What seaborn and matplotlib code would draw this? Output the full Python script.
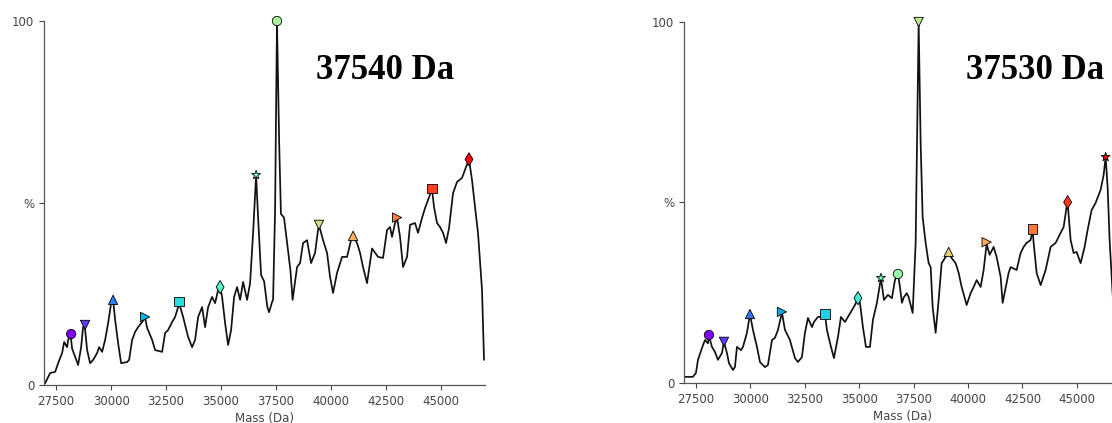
import matplotlib

matplotlib.use("Agg")
import matplotlib.pyplot as plt
import numpy as np
import pandas as pd
import seaborn as sns

# --- spectrum (mass in Da, intensity in %) ---
left_mass = [26960, 27000, 27227, 27455, 27591, 27773, 27864, 28000, 28045, 28160, 28227,
             28364, 28500, 28636, 28727, 28800, 28909, 29045, 29182, 29364, 29455,
             29591, 29727, 29864, 30000, 30090, 30182, 30318, 30455, 30727, 30818,
             30955, 31091, 31227, 31409, 31545, 31636, 31864, 32000, 32318, 32455,
             32591, 32773, 32909, 33045, 33090, 33273, 33500, 33682, 33818, 33955,
             34136, 34273, 34409, 34591, 34727, 34864, 34955, 35045, 35182, 35318,
             35455, 35591, 35727, 35864, 36000, 36182, 36318, 36455, 36591, 36682,
             36818, 36955, 37100, 37181, 37317, 37363, 37454, 37540, 37640, 37720,
             37860, 38000, 38150, 38250, 38454, 38590, 38726, 38908, 39090, 39272,
             39408, 39450, 39635, 39817, 39953, 40090, 40271, 40499, 40726, 40908,
             41000, 41180, 41317, 41453, 41635, 41862, 42135, 42362, 42544, 42680,
             42771, 42908, 43000, 43135, 43271, 43453, 43589, 43816, 43953, 44135,
             44271, 44453, 44590, 44680, 44817, 44953, 45090, 45226, 45362, 45544,
             45726, 45953, 46135, 46270, 46408, 46544, 46680, 46862, 46953]
left_int = [0.3, 0.5, 3.3, 3.6, 6.0, 8.8, 11.8, 10.4, 12.4, 13.5, 10.0,
            7.7, 5.5, 10.4, 16.0, 16.3, 9.6, 6.0, 6.9, 8.8, 10.4,
            9.1, 12.4, 17.0, 22.5, 23.4, 17.9, 11.5, 6.0, 6.3, 6.9,
            12.4, 14.6, 15.9, 17.3, 18.5, 15.7, 12.4, 9.6, 9.1, 14.3,
            15.1, 17.3, 18.7, 21.4, 22.5, 18.7, 13.2, 10.4, 12.4, 18.7,
            21.4, 15.9, 21.4, 24.2, 22.5, 26.1, 26.9, 24.2, 17.0, 11.0,
            15.1, 24.2, 26.9, 23.4, 28.3, 23.4, 28.0, 41.8, 57.7, 46.0,
            30.2, 28.5, 21.5, 20.0, 22.8, 23.4, 48.0, 100.0, 66.5, 47.0,
            46.0, 39.0, 31.6, 23.4, 32.4, 33.5, 39.0, 39.8, 33.5, 36.3,
            42.6, 44.0, 39.8, 36.3, 29.7, 25.3, 30.8, 35.2, 35.2, 39.8,
            41.0, 39.0, 36.3, 32.4, 28.0, 37.5, 35.2, 34.9, 42.6, 43.4,
            40.7, 44.5, 45.9, 40.7, 32.4, 35.2, 44.0, 44.5, 41.8, 45.9,
            48.6, 51.6, 53.8, 48.9, 44.5, 43.4, 41.8, 39.0, 43.1, 52.7,
            55.8, 56.9, 59.9, 62.0, 56.3, 48.9, 41.8, 26.1, 6.9]

left_peak_mass = [28182, 28818, 30090, 31545, 33090, 34955, 36591, 37540, 39450,
                  41000, 43000, 44590, 46270]
left_peak_int = [14.0, 16.5, 23.4, 18.7, 23.0, 26.9, 57.7, 100.0, 44.0,
                 41.0, 46.0, 54.0, 62.0]

# --- spectrum ---
right_mass = [26960, 27087, 27362, 27500, 27592, 27776, 27913, 28051, 28097, 28235, 28373,
              28510, 28694, 28786, 28924, 29016, 29199, 29291, 29383, 29567, 29659,
              29842, 29980, 30118, 30302, 30440, 30669, 30807, 30991, 31128, 31266,
              31450, 31588, 31817, 32047, 32185, 32369, 32506, 32644, 32828, 32920,
              33103, 33333, 33425, 33517, 33655, 33838, 34022, 34160, 34344, 34481,
              34665, 34803, 34941, 35033, 35170, 35308, 35492, 35630, 35813, 35997,
              36135, 36319, 36502, 36640, 36778, 36870, 36962, 37050, 37130, 37180,
              37270, 37455, 37592, 37730, 37821, 37913, 38051, 38189, 38281, 38373,
              38510, 38648, 38786, 38970, 39108, 39245, 39429, 39567, 39705, 39934,
              40118, 40256, 40394, 40577, 40715, 40853, 40991, 41174, 41312, 41496,
              41588, 41771, 41863, 41955, 42231, 42414, 42552, 42690, 42874, 42966,
              43012, 43150, 43333, 43563, 43793, 44022, 44252, 44390, 44527, 44573,
              44711, 44849, 44986, 45170, 45354, 45492, 45675, 45859, 46089, 46227,
              46319, 46411, 46502, 46686, 46870]
right_int = [1.7, 1.7, 1.7, 2.8, 6.4, 9.7, 11.9, 11.0, 13.0, 10.0, 8.6,
             6.4, 8.3, 11.4, 8.3, 5.5, 3.6, 4.4, 10.0, 9.1, 10.0,
             13.9, 19.1, 14.7, 10.0, 5.8, 4.4, 5.0, 11.9, 12.5, 14.7,
             19.5, 14.7, 11.9, 6.9, 5.8, 7.2, 13.9, 18.0, 15.5, 16.9,
             18.3, 18.3, 19.1, 14.7, 11.1, 6.9, 12.7, 18.3, 16.9, 18.3,
             20.2, 21.6, 23.5, 22.2, 15.5, 10.0, 10.0, 17.5, 22.2, 29.1,
             23.0, 24.4, 23.5, 28.5, 30.2, 26.6, 22.2, 23.8, 24.4, 24.9,
             23.8, 19.4, 38.8, 100.0, 66.5, 46.0, 38.8, 33.2, 32.1, 21.0,
             13.9, 23.0, 33.2, 34.9, 36.0, 34.6, 33.2, 30.5, 26.6, 21.6,
             24.9, 26.6, 28.5, 26.6, 31.3, 38.5, 35.5, 37.7, 34.9, 29.4,
             22.2, 27.7, 30.5, 32.1, 31.3, 36.0, 37.7, 38.8, 39.6, 42.5,
             38.8, 30.5, 27.1, 31.3, 37.7, 38.8, 41.6, 43.2, 48.8, 50.0,
             39.6, 36.0, 36.3, 33.2, 37.7, 42.4, 47.9, 49.9, 53.5, 57.6,
             62.6, 54.3, 39.6, 20.0, 5.0]

right_peak_mass = [28097, 28786, 29980, 31450, 33425, 34941, 35997, 36778, 37730,
                   39108, 40853, 42966, 44573, 46319]
right_peak_int = [13.3, 11.4, 19.1, 19.7, 19.1, 23.5, 29.1, 30.2, 100.0,
                  36.3, 39.0, 42.7, 50.1, 62.6]

labels = ["37540 Da", "37530 Da"]
marker_cycle = ["o", "v", "^", ">", "s", "d", "*"]
xticks = [27500, 30000, 32500, 35000, 37500, 40000, 42500, 45000]

sns.set_style("ticks")
plt.rcParams["font.family"] = ["DejaVu Sans"]

fig = plt.figure(figsize=(11.12, 4.23), dpi=100)
ax_l = fig.add_axes([0.0396, 0.0898, 0.3966, 0.8605])
ax_r = fig.add_axes([0.6151, 0.0946, 0.3925, 0.8534])

panels = [
    (ax_l, left_mass, left_int, left_peak_mass, left_peak_int, labels[0], 0.773),
    (ax_r, right_mass, right_int, right_peak_mass, right_peak_int, labels[1], 0.805),
]

for ax, mass, inten, pk_m, pk_i, label, tx in panels:
    spec = pd.DataFrame({"mass": mass, "intensity": inten})
    sns.lineplot(data=spec, x="mass", y="intensity", ax=ax, color="#111111",
                 lw=1.25, estimator=None, sort=False, zorder=2)

    n = len(pk_m)
    peaks = pd.DataFrame({"mass": pk_m, "intensity": pk_i, "k": [str(i) for i in range(n)]})
    colors = [matplotlib.colormaps["rainbow"](t) for t in np.linspace(0, 1, n)]
    markers = [marker_cycle[i % len(marker_cycle)] for i in range(n)]
    sns.scatterplot(data=peaks, x="mass", y="intensity", hue="k", style="k",
                    palette=colors, markers=markers, s=45, edgecolor="black",
                    linewidth=0.6, legend=False, ax=ax, zorder=3, clip_on=False)

    ax.set_xlim(26950, 47000)
    ax.set_ylim(0, 100)
    ax.set_xticks(xticks)
    ax.set_xticklabels([str(v) for v in xticks])
    ax.set_yticks([0, 50, 100])
    ax.set_yticklabels(["0", "%", "100"])
    ax.tick_params(labelsize=8.5, colors="#444444", length=3.5, width=0.8)
    ax.set_xlabel("Mass (Da)", fontsize=8.5, color="#444444", labelpad=3)
    ax.set_ylabel("")
    for side in ("left", "bottom"):
        ax.spines[side].set_color("#555555")
        ax.spines[side].set_linewidth(0.9)
    sns.despine(ax=ax)
    ax.text(tx, 0.865, label, transform=ax.transAxes, ha="center", va="center",
            fontsize=25, fontweight="bold", family="Liberation Serif", color="black")

fig.savefig("out.png", dpi=100)
